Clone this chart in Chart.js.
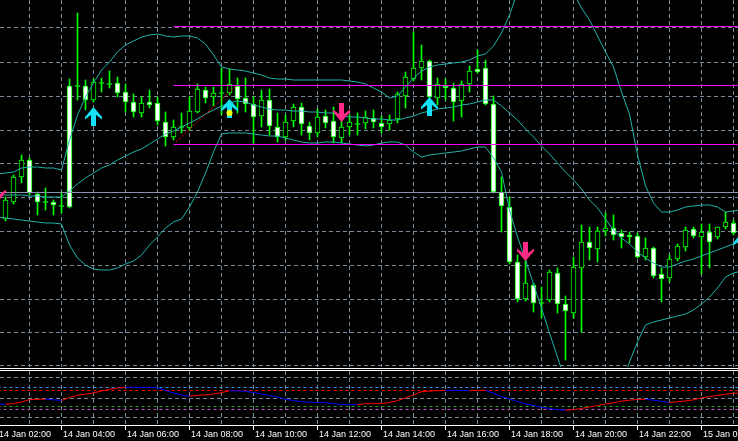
<!DOCTYPE html>
<html>
<head>
<meta charset="utf-8">
<script src="https://cdn.jsdelivr.net/npm/chart.js@4.4.1/dist/chart.umd.min.js"></script>
<style>
  html, body { margin: 0; padding: 0; background: #000; overflow: hidden; }
  #wrap { position: relative; width: 738px; height: 441px; }
  canvas { position: absolute; left: 0; }
  #main { top: 0; }
  #sub { top: 367px; }
</style>
</head>
<body>
<div id="wrap">
  <canvas id="main" width="738" height="367"></canvas>
  <canvas id="sub" width="738" height="74"></canvas>
</div>
<script>
// 15 minute candles, 14 Jan 02:15 .. 15 Jan 01:00 (index 0..91)
const openP = [181,198,223,240,206,197.5,198,193.5,314,313.5,
  314,300,316.5,315.5,317,308,298,287,298,297,
  278,263,272.5,272,288,310,303,306.5,307,314,
  302,296,284,300,273,263,279,293,274,267,
  284,279,262,273,275.5,277,282,277,276,281,
  304,321,332,339,302,314,312,299,316,331,
  332,296,208,193,138,101,115,96.5,100,127,
  96,87,132,158,151,169,172,167,165,164,
  143,152,126,122,141,153,171,163,168,163,
  173,177];
const closeP = [200,223,240,207,198,197.5,195,193.5,193,313.5,
  300,318,316.5,315.5,307,298,288,297,295,279,
  263,273,272.5,289,311,302,307,306.5,316,301,
  296,283,300,274,263,278,293,276,267,283,
  277,263,273,278,275.5,283,278,273,280,306,
  323,332,339,303,316,312,298,316,329,328,
  296,208,194,138,101,117,97,96.5,128,96,
  89,133,158,152,169,172,165,163,163,143,
  152,124,121,141,154,170,164,168,158,173,
  178,167];
const highP = [203,225,245,242,208,212,200,208,321,387,
  320,321,322,329,323,316,306,303,310,303,
  288,280,287,303,316,313,313,332,331,322,
  322,303,310,311,287,285,296,297,278,291,
  290,293,279,285,287,289,290,284,285,308,
  328,368,355,340,322,321,317,319,334,350,
  340,304,223,203,145,142,117,113,130,132,
  104,143,175,173,173,187,185,170,168,167,
  162,153,132,145,156,173,173,176,176,173,
  188,180];
const lowP = [179,196,217,205,185,190,185,187,192,300,
  290,298,308,312,303,288,283,283,292,275,
  254,260,267,270,287,297,294,285,305,287,
  288,257,273,265,258,260,273,265,260,263,
  272,257,257,265,265,271,272,267,270,277,
  292,319,320,301,295,300,279,283,308,327,
  295,207,168,136,98,99,88,82,98,87,
  40,82,68,140,138,164,160,152,157,142,
  140,122,98,118,139,149,162,126,132,161,
  171,165];

// Bollinger bands, index -1 .. 92
const bbUpper = [226,
  227,228,232,233,233,232,232,230,260,285,
  303,317,330,338,348,355,359,363,365,366,
  364,363,364,364,362,356,345,333,331,330,
  329,327,325,322,321,321,320,320,320,320,
  320,320,320,319,318,316,312,308,302,304,
  313,322,329,333,335,336,337,338,340,344,
  346,354,367,385,408,420,430,435,435,430,
  420,407,392,380,364,348,333,308,286,245,
  214,197,188,188,190,193,194,195,195,193,
  188,189,
  190];
const bbMiddle = [205,
  205,205,205,204,204,203,203,203,209,216,
  222,227,232,235,240,244,248,251,256,261,
  266,269,273,277,281,286,290,294,297,299,
  298,295,293,291,290,290,289,289,288,288,
  287,287,285,283,283,282,281,281,280,280,
  282,284,287,289,291,292,293,295,296,298,
  300,300,294,287,280,271,263,254,246,237,
  228,220,211,200,192,181,170,162,156,148,
  142,137,133,133,136,139,141,144,147,150,
  153,156,
  159];
const bbLower = [183,
  182,181,180,179,178,177,177,176,155,142,
  135,131,130,130,132,136,139,145,155,163,
  172,178,181,193,208,227,248,266,267,267,
  267,266,265,264,264,262,260,258,257,257,
  258,258,257,256,255,254,255,257,258,258,
  255,248,243,245,246,247,248,249,251,253,
  253,242,228,190,163,140,116,92,67,43,
  18,-5,-20,-28,-28,-20,-5,15,38,58,
  75,78,80,82,84,86,90,96,103,112,
  123,127,
  129];

// oscillator in the lower window, index -1 .. 92
const oscValues = [21.0,
  20.7,21.5,23.0,25.4,25.7,25.75,25.2,24.5,27.5,29.7,
  31.0,32.0,34.0,35.7,37.0,37.7,37.7,37.6,37.5,37.3,
  34.5,32.0,30.0,28.7,29.7,30.2,31.0,32.5,34.3,34.1,
  33.7,32.5,31.0,29.5,28.0,25.7,24.5,23.3,22.8,22.5,
  22.3,21.3,20.5,20.4,20.3,21.3,21.35,21.4,22.5,24.5,
  27.2,30.0,33.4,33.9,34.4,34.7,34.6,34.5,34.4,34.6,
  34.7,31.8,28.5,26.0,23.5,21.2,19.5,17.8,16.5,15.3,
  14.8,15.3,16.5,18.0,19.5,21.0,22.3,23.8,24.8,25.6,
  25.7,24.8,23.7,22.4,23.3,24.0,25.2,27.0,28.5,29.5,
  30.8,31.7,
  32.2];
const oscLevels = [37.5, 34.5, 18.5, 15.5];
const oscLevelColors = ['#3d8fe6', '#ff0000', '#1f9f1f', '#c846c8'];

// chart objects
const magentaLevels = [373.5, 314.5, 255.5];
const levelStartIdx = 21;
const grayLevel = 207.5;
const trendIdx = [21.3, 28.8];
const trendPrice = [258, 314];
const upArrowIdx = [11, 28, 53, 92];
const upArrowPrice = [283.5, 291.5, 293.5, 157.5];
const downArrowIdx = [-1, 42, 65];
const downArrowPrice = [207.5, 287.5, 148.5];
const dotIdx = [28];
const dotPrice = [287];

// axes
const priceGrid = [372.5, 337.5, 303.5, 269.5, 236.5, 202.5, 168.5, 134.5, 100.5, 67.5, 34.5];
const subGrid = [7.5, 26.5, 47.5];
const timeLabels = ['14 Jan 02:00', '14 Jan 04:00', '14 Jan 06:00', '14 Jan 08:00', '14 Jan 10:00',
  '14 Jan 12:00', '14 Jan 14:00', '14 Jan 16:00', '14 Jan 18:00', '14 Jan 20:00', '14 Jan 22:00', '15 Jan 00:00'];
const timeLabelIdx = [-1, 7, 15, 23, 31, 39, 47, 55, 63, 71, 79, 87];

const lime = '#00ff00';
const bbColor = '#20b2aa';
const gridColor = '#778899';
const xMin = -0.6875, xMax = 91.5625;

const hourTicks = [];
for (let i = -1; i <= 91; i += 4) hourTicks.push({ value: i });

function pts(arr, first) {
  return arr.map((v, k) => ({ x: k + first, y: v }));
}

function arrowImg(color, up) {
  const c = document.createElement('canvas');
  c.width = 17; c.height = 19;
  const g = c.getContext('2d');
  const shape = [[8.5, 0], [17, 10], [17, 12.5], [11, 8], [11, 19], [6, 19], [6, 8], [0, 12.5], [0, 10]];
  g.fillStyle = color;
  g.beginPath();
  shape.forEach(([x, y], k) => {
    const yy = up ? y : 19 - y;
    if (k) g.lineTo(x, yy); else g.moveTo(x, yy);
  });
  g.closePath();
  g.fill();
  return c;
}

const xScale = {
  type: 'linear', min: xMin, max: xMax, offset: false,
  grid: { color: gridColor, drawTicks: false, offset: false },
  border: { display: false, dash: [4, 3] },
  ticks: { display: false },
  afterBuildTicks: s => { s.ticks = hourTicks.slice(); }
};

const mainSets = [
  {
    type: 'bar', label: 'wick',
    data: highP.map((h, i) => ({ x: i, y: [lowP[i], h] })),
    backgroundColor: lime, borderWidth: 0, barThickness: 1, grouped: false, order: 10
  },
  {
    type: 'bar', label: 'body',
    data: openP.map((o, i) => ({ x: i, y: [o, closeP[i]] })),
    backgroundColor: ctx => {
      const o = openP[ctx.dataIndex], c = closeP[ctx.dataIndex];
      if (c < o) return '#ffffff';
      if (c > o) return '#000000';
      return lime;
    },
    borderColor: lime, borderWidth: 1, borderSkipped: false,
    barThickness: 5, minBarLength: 1, grouped: false, order: 9
  },
  { type: 'line', label: 'upper', data: pts(bbUpper, -1), borderColor: bbColor, borderWidth: 1, pointRadius: 0, order: 8 },
  { type: 'line', label: 'middle', data: pts(bbMiddle, -1), borderColor: bbColor, borderWidth: 1, pointRadius: 0, order: 8 },
  { type: 'line', label: 'lower', data: pts(bbLower, -1), borderColor: bbColor, borderWidth: 1, pointRadius: 0, order: 8 }
];

magentaLevels.forEach(lv => {
  mainSets.push({
    type: 'line', data: [{ x: levelStartIdx, y: lv }, { x: 93, y: lv }],
    borderColor: '#ff00ff', borderWidth: 1, pointRadius: 0, order: 7
  });
});
mainSets.push({
  type: 'line', data: [{ x: -1, y: grayLevel }, { x: 93, y: grayLevel }],
  borderColor: '#8796aa', borderWidth: 1, pointRadius: 0, order: 7
});
mainSets.push({
  type: 'line', data: trendIdx.map((x, k) => ({ x: x, y: trendPrice[k] })),
  borderColor: '#ff0000', borderWidth: 1, borderDash: [2, 2], pointRadius: 0, order: 6
});
mainSets.push({
  type: 'line', showLine: false, data: upArrowIdx.map((x, k) => ({ x: x, y: upArrowPrice[k] })),
  pointStyle: arrowImg('#14e1f5', true), pointRadius: 9, order: 5
});
mainSets.push({
  type: 'line', showLine: false, data: downArrowIdx.map((x, k) => ({ x: x, y: downArrowPrice[k] })),
  pointStyle: arrowImg('#ff2a85', false), pointRadius: 9, order: 5
});
mainSets.push({
  type: 'line', showLine: false, data: dotIdx.map((x, k) => ({ x: x, y: dotPrice[k] })),
  pointStyle: 'circle', pointRadius: 3, pointBackgroundColor: '#ffff00', pointBorderWidth: 0, order: 4
});

new Chart(document.getElementById('main'), {
  type: 'bar',
  data: { datasets: mainSets },
  options: {
    responsive: false, animation: false, devicePixelRatio: 1, events: [],
    layout: { padding: 0, autoPadding: false },
    plugins: { legend: { display: false }, tooltip: { enabled: false } },
    scales: {
      x: xScale,
      y: {
        type: 'linear', min: 33, max: 400,
        grid: { color: gridColor, drawTicks: false },
        border: { display: false, dash: [4, 3] },
        ticks: { display: false },
        afterBuildTicks: s => { s.ticks = priceGrid.map(v => ({ value: v })); }
      }
    }
  }
});

// lower window: separator, time axis and labels
const subFrame = {
  id: 'subFrame',
  afterDraw(chart) {
    const g = chart.ctx, xs = chart.scales.x, area = chart.chartArea;
    g.save();
    g.fillStyle = '#ffffff';
    g.fillRect(0, 1, chart.width, 1);
    g.fillRect(0, 3, chart.width, 1);
    g.fillRect(0, area.bottom, chart.width, 1);
    g.font = '9px "Liberation Sans", Arial, sans-serif';
    g.textAlign = 'left';
    g.textBaseline = 'alphabetic';
    timeLabelIdx.forEach((idx, k) => {
      const px = Math.floor(xs.getPixelForValue(idx));
      g.fillRect(px, area.bottom, 1, 5);
      g.fillText(timeLabels[k], px + 2, area.bottom + 12);
    });
    g.restore();
  }
};

const subSets = [{
  type: 'line', data: pts(oscValues, -1), borderWidth: 1, pointRadius: 0, order: 1,
  borderColor: '#ff0000',
  segment: { borderColor: c => (c.p1.parsed.y > c.p0.parsed.y ? '#ff0000' : '#0000ff') }
}];
oscLevels.forEach((lv, k) => {
  subSets.push({
    type: 'line', data: [{ x: -1, y: lv }, { x: 93, y: lv }],
    borderColor: oscLevelColors[k], borderWidth: 1, borderDash: [3, 3], pointRadius: 0, order: 2
  });
});

new Chart(document.getElementById('sub'), {
  type: 'line',
  data: { datasets: subSets },
  options: {
    responsive: false, animation: false, devicePixelRatio: 1, events: [],
    layout: { padding: { top: 4, bottom: 16, left: 0, right: 0 }, autoPadding: false },
    plugins: { legend: { display: false }, tooltip: { enabled: false } },
    scales: {
      x: Object.assign({}, xScale),
      y: {
        type: 'linear', min: 0, max: 54,
        grid: { color: gridColor, drawTicks: false },
        border: { display: false, dash: [4, 3] },
        ticks: { display: false },
        afterBuildTicks: s => { s.ticks = subGrid.map(v => ({ value: v })); }
      }
    }
  },
  plugins: [subFrame]
});
</script>
</body>
</html>
